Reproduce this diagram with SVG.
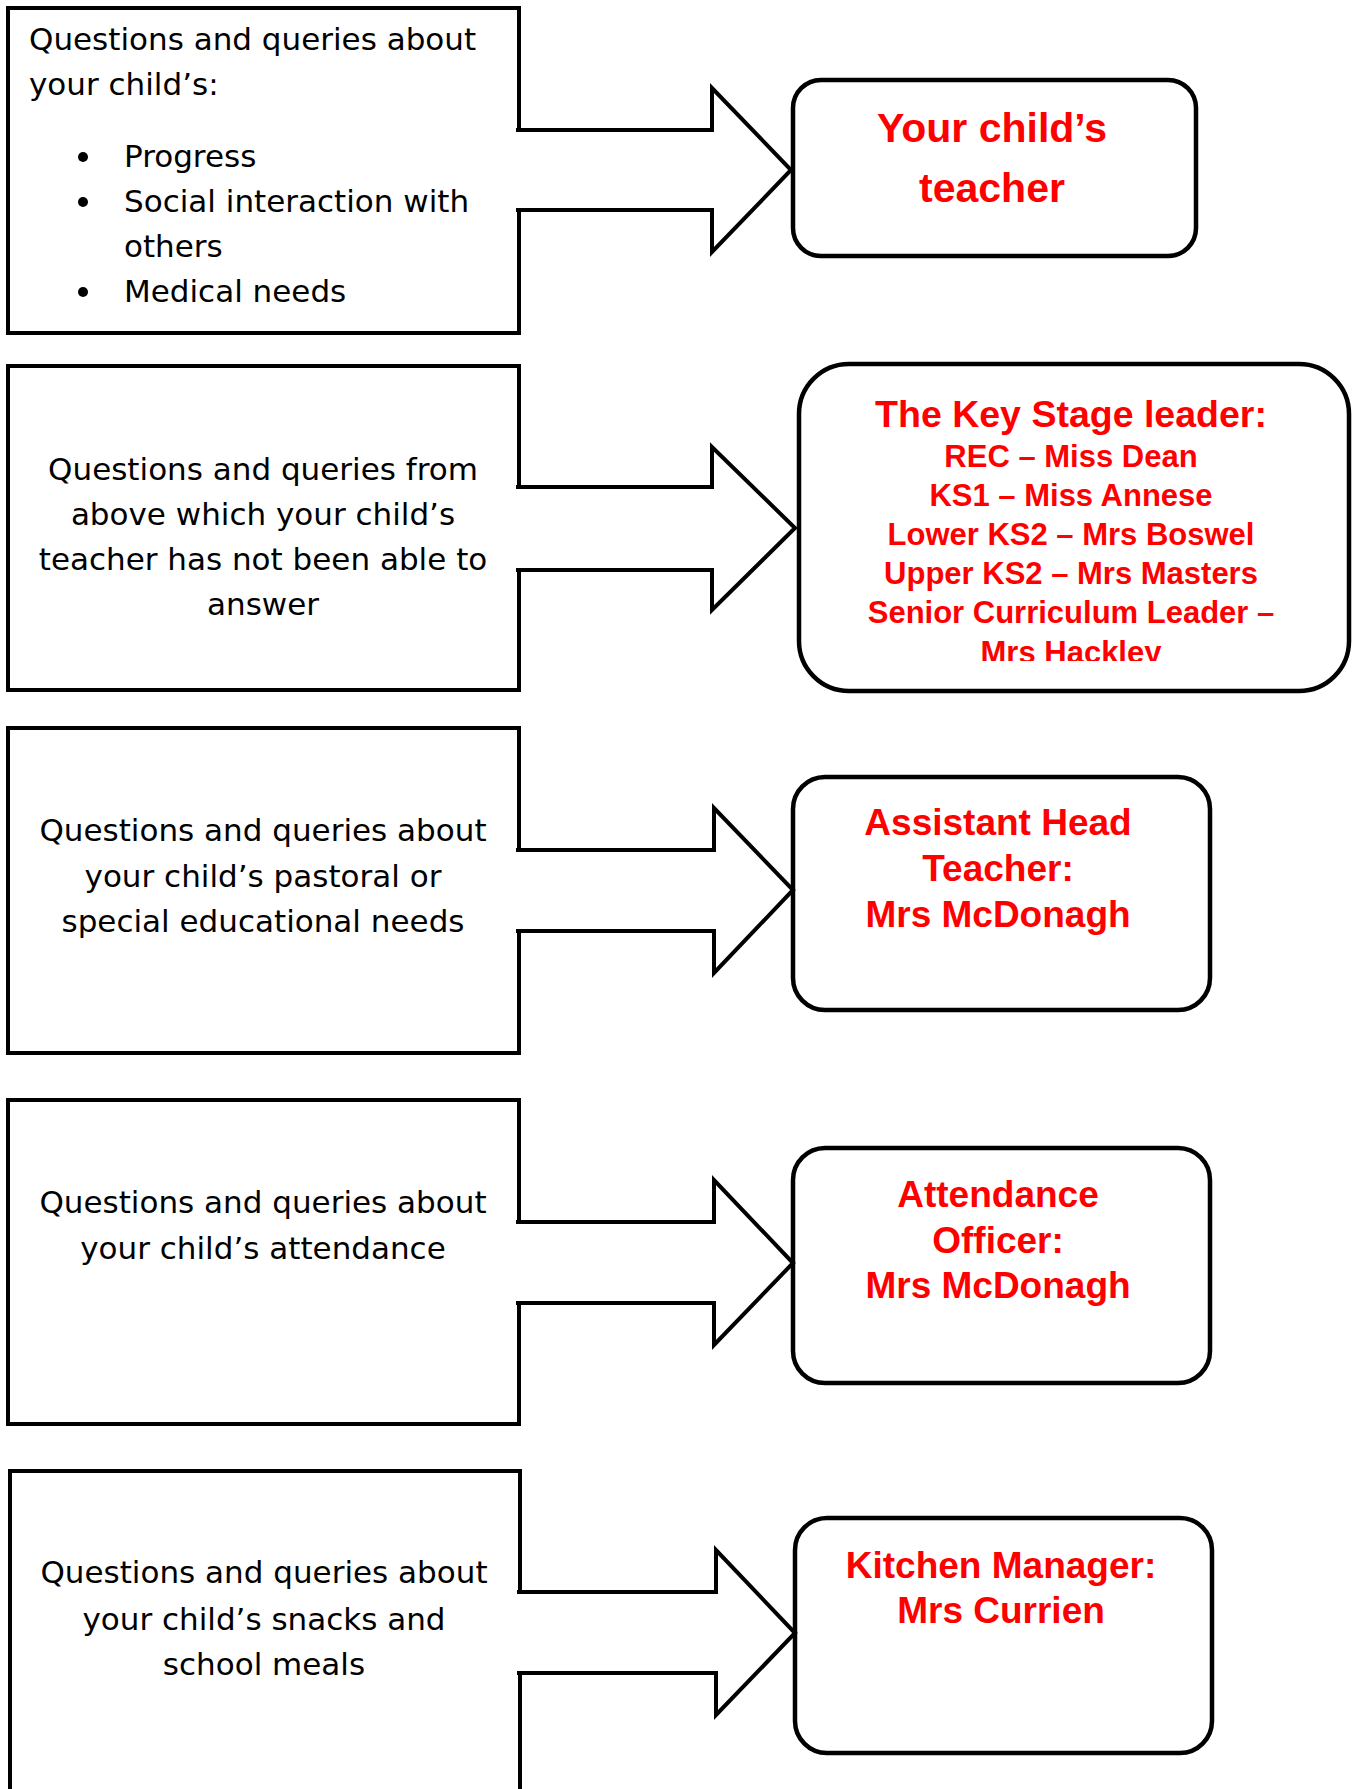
<svg xmlns="http://www.w3.org/2000/svg" width="1353" height="1789" viewBox="0 0 1353 1789">
<style>
.box{fill:#fff;stroke:#000;stroke-width:4}
.rbox{fill:#fff;stroke:#000;stroke-width:4.5}
.arrow{fill:#fff;stroke:#000;stroke-width:4;stroke-linejoin:miter}
.q{font-family:"DejaVu Sans",sans-serif;font-size:31px;fill:#000}
.qc{font-family:"DejaVu Sans",sans-serif;font-size:31px;fill:#000;text-anchor:middle}
.r{font-family:"Liberation Sans",Arial,sans-serif;font-weight:bold;fill:#f00;text-anchor:middle}
</style>
<defs>
<clipPath id="clip2"><rect x="799" y="364" width="551" height="297"/></clipPath>
</defs>
<rect x="0" y="0" width="1353" height="1789" fill="#fff"/>

<g id="q1">
<rect class="box" x="8" y="8" width="511" height="325"/>
<text class="q" x="29" y="50">Questions and queries about</text>
<text class="q" x="29" y="95">your child’s:</text>
<circle cx="83" cy="157" r="5"/>
<circle cx="83" cy="202" r="5"/>
<circle cx="83" cy="292" r="5"/>
<text class="q" x="124" y="167">Progress</text>
<text class="q" x="124" y="212">Social interaction with</text>
<text class="q" x="124" y="257">others</text>
<text class="q" x="124" y="302">Medical needs</text>
</g>

<g id="q2">
<rect class="box" x="8" y="366" width="511" height="324"/>
<text class="qc" x="263" y="480">Questions and queries from</text>
<text class="qc" x="263" y="525">above which your child’s</text>
<text class="qc" x="263" y="570">teacher has not been able to</text>
<text class="qc" x="263" y="615">answer</text>
</g>

<g id="q3">
<rect class="box" x="8" y="728" width="511" height="325"/>
<text class="qc" x="263" y="841">Questions and queries about</text>
<text class="qc" x="263" y="887">your child’s pastoral or</text>
<text class="qc" x="263" y="932">special educational needs</text>
</g>

<g id="q4">
<rect class="box" x="8" y="1100" width="511" height="324"/>
<text class="qc" x="263" y="1213">Questions and queries about</text>
<text class="qc" x="263" y="1259">your child’s attendance</text>
</g>

<g id="q5">
<rect class="box" x="10" y="1471" width="510" height="340"/>
<text class="qc" x="264" y="1583">Questions and queries about</text>
<text class="qc" x="264" y="1630">your child’s snacks and</text>
<text class="qc" x="264" y="1675">school meals</text>
</g>

<g id="a1">
<rect class="rbox" x="793" y="80" width="403" height="176" rx="28"/>
<text class="r" x="992" y="142" font-size="41">Your child’s</text>
<text class="r" x="992" y="202" font-size="41">teacher</text>
</g>

<g id="a2">
<rect class="rbox" x="799" y="364" width="550" height="327" rx="50"/>
<g clip-path="url(#clip2)">
<text class="r" x="1071" y="427" font-size="37.5">The Key Stage leader:</text>
<text class="r" x="1071" y="467" font-size="31">REC – Miss Dean</text>
<text class="r" x="1071" y="506" font-size="31">KS1 – Miss Annese</text>
<text class="r" x="1071" y="545" font-size="31">Lower KS2 – Mrs Boswel</text>
<text class="r" x="1071" y="584" font-size="31">Upper KS2 – Mrs Masters</text>
<text class="r" x="1071" y="623" font-size="31">Senior Curriculum Leader –</text>
<text class="r" x="1071" y="663" font-size="31">Mrs Hackley</text>
</g>
</g>

<g id="a3">
<rect class="rbox" x="793" y="777" width="417" height="233" rx="32"/>
<text class="r" x="998" y="835" font-size="37">Assistant Head</text>
<text class="r" x="998" y="881" font-size="37">Teacher:</text>
<text class="r" x="998" y="927" font-size="37">Mrs McDonagh</text>
</g>

<g id="a4">
<rect class="rbox" x="793" y="1148" width="417" height="235" rx="32"/>
<text class="r" x="998" y="1207" font-size="37">Attendance</text>
<text class="r" x="998" y="1253" font-size="37">Officer:</text>
<text class="r" x="998" y="1298" font-size="37">Mrs McDonagh</text>
</g>

<g id="a5">
<rect class="rbox" x="795" y="1518" width="417" height="235" rx="32"/>
<text class="r" x="1001" y="1578" font-size="37">Kitchen Manager:</text>
<text class="r" x="1001" y="1623" font-size="37">Mrs Currien</text>
</g>

<g id="connectors">
<path class="arrow" d="M516,130 H712 V88 L791,170 L712,252 V210 H516"/>
<path class="arrow" d="M516,487 H712 V447 L795,528 L712,610 V570 H516"/>
<path class="arrow" d="M516,850 H714 V808 L793,890 L714,973 V931 H516"/>
<path class="arrow" d="M516,1222 H714 V1180 L793,1263 L714,1345 V1303 H516"/>
<path class="arrow" d="M517,1592 H716 V1550 L795,1633 L716,1715 V1673 H517"/>
</g>
</svg>
